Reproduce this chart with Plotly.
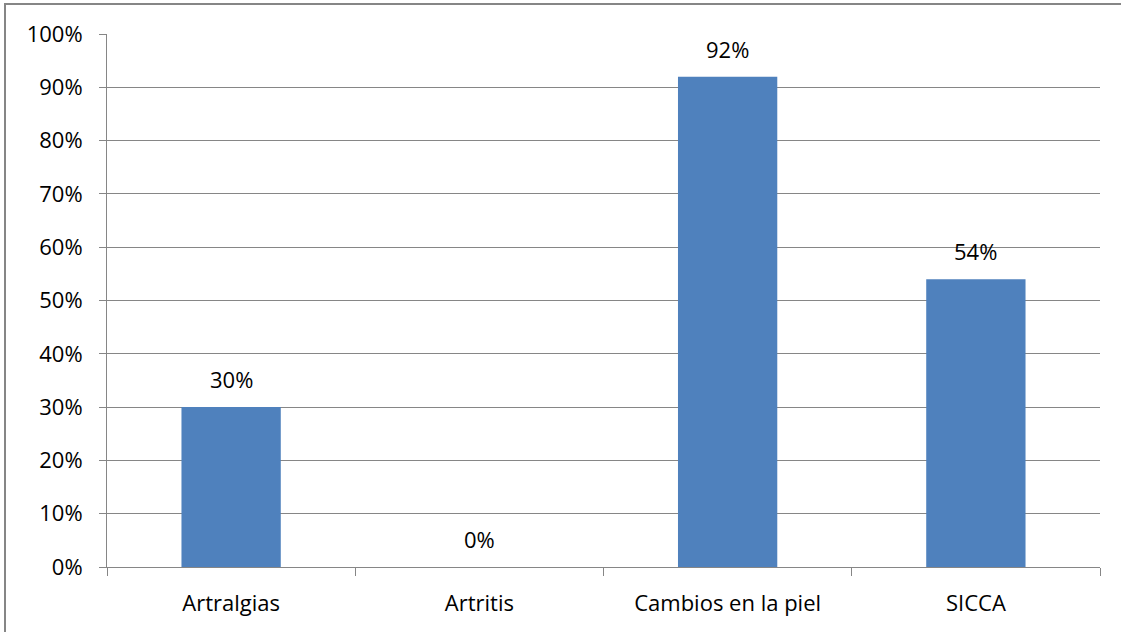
import plotly.graph_objects as go

categories = ["Artralgias", "Artritis", "Cambios en la piel", "SICCA"]
values = [0.30, 0.00, 0.92, 0.54]
value_labels = ["30%", "0%", "92%", "54%"]

W, H = 1121, 632
ml, mr, mt, mb = 107, 21, 34, 65
pw, ph = W - ml - mr, H - mt - mb

font_family = "Open Sans, Liberation Sans, sans-serif"
grid = "#868686"
fsize = 22

fig = go.Figure(
    go.Bar(
        x=categories,
        y=values,
        marker=dict(color="#4F81BD", line=dict(width=0)),
        width=0.4,
        hoverinfo="skip",
    )
)

# value labels above each bar
for c, v, t in zip(categories, values, value_labels):
    fig.add_annotation(
        x=c, y=v, text=t, showarrow=False, yshift=28,
        font=dict(family=font_family, size=fsize, color="#000000"),
    )

# chart frame: left and top edges only
fx0 = -(ml - 5) / pw
fx1 = (W - ml) / pw
fy0 = -mb / ph
fy1 = 1 + (mt - 4) / ph
fig.add_shape(
    type="path", xref="paper", yref="paper",
    path=f"M {fx0},{fy0} L {fx0},{fy1} L {fx1},{fy1}",
    line=dict(color=grid, width=2), layer="below",
)

fig.update_layout(
    width=W, height=H,
    margin=dict(l=ml, r=mr, t=mt, b=mb),
    paper_bgcolor="white", plot_bgcolor="white",
    showlegend=False,
    bargap=0.6,
    font=dict(family=font_family, size=fsize, color="#000000"),
    xaxis=dict(
        type="category",
        showline=True, linecolor=grid, linewidth=1,
        ticks="outside", tickson="boundaries", ticklen=8, tickcolor=grid,
        showgrid=False, ticklabelstandoff=17,
        tickfont=dict(size=fsize),
    ),
    yaxis=dict(
        range=[0, 1], dtick=0.1, tickformat=".0%",
        showline=True, linecolor=grid, linewidth=1,
        showgrid=True, gridcolor=grid, gridwidth=1,
        ticks="outside", ticklen=7, tickcolor=grid,
        zeroline=False, ticklabelstandoff=12,
        tickfont=dict(size=fsize),
    ),
)

fig.write_html("out.html")
